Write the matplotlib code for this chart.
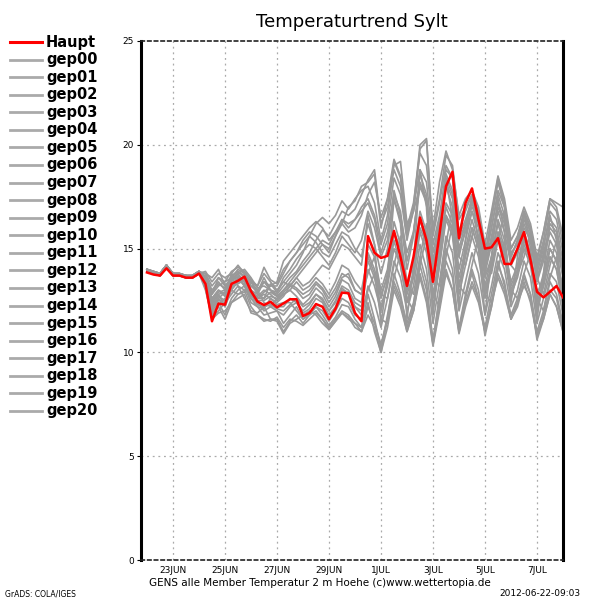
import matplotlib
matplotlib.use("Agg")
import matplotlib.pyplot as plt
import numpy as np

# ---------------- data ----------------
# 6-hourly time steps, in days after 22JUN 00Z
steps_per_day = 4
n_steps = 65

tick_days = [1, 3, 5, 7, 9, 11, 13, 15]
tick_labels = ["23JUN", "25JUN", "27JUN", "29JUN", "1JUL", "3JUL", "5JUL", "7JUL"]
y_ticks = [0, 5, 10, 15, 20, 25]

haupt = [13.85, 13.75, 13.7, 14.05, 13.7, 13.7, 13.6, 13.6, 13.8,
         13.3, 11.5, 12.35, 12.3, 13.3, 13.45, 13.65, 12.95, 12.45, 12.28, 12.44, 12.17,
         12.36, 12.56, 12.56, 11.75, 11.9, 12.33, 12.2, 11.6, 12.1, 12.88, 12.85, 11.9, 11.5,
         15.6, 14.8, 14.55, 14.65, 15.85, 14.6, 13.2, 14.6, 16.5, 15.4, 13.4, 15.7, 18.0, 18.7,
         15.5, 17.2, 17.9, 16.4, 15.0, 15.06, 15.5, 14.26, 14.26, 15.0, 15.8, 14.45, 12.92,
         12.65, 12.92, 13.2, 12.65]

gep00 = [14.0,13.9,13.8,14.2,13.8,13.8,13.7,13.7,13.9,
         13.6,12.2,12.6,12.9,13.5,13.8,13.4,12.9,12.7,13.0,12.8,12.5,
         12.8,13.0,12.7,12.3,12.6,13.1,12.8,12.2,12.7,13.5,13.3,12.6,12.4,
         15.2,14.6,13.0,14.0,16.3,15.2,13.2,14.4,16.8,15.8,13.4,15.0,17.2,16.6,14.0,15.4,16.8,15.6,13.6,14.6,16.2,15.0,13.4,14.2,15.8,14.8,12.8,13.6,15.0,14.4,13.2]
gep01 = [13.9,13.8,13.7,14.1,13.7,13.7,13.6,13.6,13.8,
         13.4,12.8,13.6,13.2,13.6,14.0,13.8,13.2,12.9,13.6,13.0,12.8,
         13.2,13.6,13.9,14.4,14.8,15.4,15.9,15.6,16.2,16.8,16.6,16.9,17.6,
         18.3,18.8,16.2,17.0,18.8,18.0,15.6,16.8,19.8,20.2,15.8,17.4,19.5,19.0,16.4,17.0,17.6,16.8,14.8,16.4,18.2,17.0,14.6,15.4,16.6,15.8,13.8,15.0,16.8,16.4,14.8]
gep02 = [13.9,13.8,13.8,14.2,13.7,13.7,13.6,13.7,13.9,
         13.2,12.0,12.4,11.8,12.6,13.0,13.2,12.4,12.2,11.8,11.9,12.0,
         11.4,11.8,12.2,11.6,11.9,12.2,11.8,11.3,11.7,12.3,12.2,11.6,11.2,
         12.8,11.6,10.2,11.8,13.4,12.6,11.4,12.4,14.2,13.0,10.6,12.6,14.4,13.6,11.2,12.8,13.8,12.6,11.0,12.4,13.6,12.8,11.6,12.2,13.4,12.4,10.8,11.8,13.0,12.6,11.2]
gep03 = [14.0,13.8,13.7,14.1,13.8,13.7,13.7,13.6,13.8,
         13.5,12.6,13.0,12.8,13.8,13.4,13.6,13.4,12.8,12.6,13.3,12.9,
         13.6,14.0,14.5,14.9,15.2,15.0,14.6,14.2,14.8,15.6,15.2,14.8,15.4,
         16.8,16.0,14.6,15.4,17.8,16.6,14.8,15.8,18.2,17.4,14.4,16.2,18.8,18.4,15.6,16.4,17.4,16.2,14.2,15.6,17.2,16.4,14.8,15.2,16.4,15.6,13.6,14.6,16.2,15.8,14.0]
gep04 = [14.0,13.9,13.8,14.2,13.8,13.8,13.7,13.7,13.9,
         13.8,13.6,14.0,13.2,13.0,12.8,12.9,13.4,13.0,12.4,12.2,12.6,
         12.9,13.2,13.0,12.6,12.8,13.3,13.0,12.4,12.9,13.6,13.8,13.0,12.8,
         13.8,14.6,12.8,12.6,14.2,15.6,13.4,12.8,14.6,16.2,13.6,13.2,15.2,17.0,14.6,14.2,15.6,16.6,14.0,13.8,15.4,16.8,14.2,13.8,14.6,15.8,13.6,12.8,14.2,15.4,13.8]
gep05 = [13.9,13.8,13.7,14.1,13.7,13.7,13.6,13.6,13.8,
         13.0,11.7,12.0,12.4,12.8,13.2,12.6,12.0,11.9,12.2,11.6,11.6,
         11.0,11.5,11.8,11.4,11.8,12.0,11.6,11.2,11.6,12.0,11.8,11.4,11.0,
         11.8,11.2,10.0,11.2,13.0,12.2,11.0,12.0,13.8,12.6,10.4,12.2,14.0,13.0,11.0,12.4,13.4,12.6,11.2,12.8,14.4,13.2,11.8,12.6,13.6,12.8,11.0,12.0,13.4,12.8,11.4]
gep06 = [13.9,13.8,13.8,14.2,13.7,13.7,13.6,13.7,13.9,
         13.6,12.8,13.2,13.4,13.9,14.1,13.9,13.5,13.2,13.8,13.4,13.0,
         13.4,13.8,14.2,14.8,15.6,16.2,16.5,16.2,16.6,17.3,16.9,17.4,17.8,
         18.0,17.2,15.4,16.6,19.2,18.4,16.0,17.2,19.6,19.0,16.0,18.2,19.7,18.8,16.6,17.4,17.8,17.0,15.2,16.8,18.5,17.4,15.4,16.0,17.0,16.2,14.6,15.8,17.4,17.0,15.6]
gep07 = [14.0,13.8,13.7,14.1,13.8,13.7,13.7,13.6,13.8,
         13.4,12.4,12.8,12.2,13.2,13.6,13.2,12.6,12.4,12.3,12.4,12.2,
         12.2,12.6,12.4,11.9,12.1,12.6,12.4,11.8,12.2,13.0,12.9,12.2,12.0,
         14.8,14.0,12.8,13.6,15.8,14.6,12.8,13.8,16.4,15.2,12.8,14.6,17.0,16.2,13.2,14.8,16.0,15.0,12.8,14.2,15.6,14.6,12.6,13.8,15.2,14.4,12.2,13.2,14.6,14.0,12.4]
gep08 = [14.0,13.9,13.8,14.2,13.8,13.8,13.7,13.7,13.9,
         13.2,11.8,12.2,11.6,12.4,12.8,13.0,12.2,11.8,11.5,11.6,11.5,
         10.9,11.4,11.6,11.8,12.0,11.8,11.4,11.1,11.5,11.9,11.6,11.4,11.2,
         12.4,11.0,10.0,11.6,13.8,12.8,11.2,12.2,14.6,13.4,10.4,12.8,15.0,14.0,11.0,12.6,14.0,13.0,10.8,12.2,14.2,13.4,11.6,12.4,13.8,12.8,10.6,11.6,12.8,12.2,11.0]
gep09 = [13.9,13.8,13.7,14.1,13.7,13.7,13.6,13.6,13.8,
         13.7,13.0,13.4,13.0,13.6,13.2,13.0,12.8,12.6,12.9,13.2,13.2,
         13.8,14.4,14.8,15.2,15.6,15.3,14.8,14.6,15.2,15.8,15.6,15.0,14.6,
         16.2,15.2,13.8,15.0,17.4,16.4,14.0,15.6,18.6,17.6,13.8,15.8,18.2,17.4,14.6,16.0,17.2,16.2,13.8,15.2,16.8,15.8,14.2,14.8,16.0,15.4,13.4,14.4,15.8,15.2,13.6]
gep10 = [13.9,13.8,13.8,14.2,13.7,13.7,13.6,13.7,13.9,
         13.4,12.2,12.6,12.2,13.0,13.4,13.6,12.8,12.4,12.0,12.2,12.0,
         11.8,12.2,12.4,12.0,12.3,12.8,12.5,12.0,12.4,13.1,12.8,12.2,11.8,
         13.0,13.8,11.6,11.4,13.6,14.8,12.6,12.0,14.2,15.6,12.8,12.2,14.6,16.2,13.2,12.8,14.2,15.6,12.8,12.4,14.0,15.4,13.0,12.6,13.8,14.8,12.6,12.0,13.6,14.6,12.6]
gep11 = [14.0,13.8,13.7,14.1,13.8,13.7,13.7,13.6,13.8,
         13.8,13.2,13.6,13.4,13.6,13.9,13.6,13.0,12.8,13.4,13.2,13.4,
         14.4,14.8,15.2,15.6,16.0,16.3,16.0,15.4,15.8,16.2,15.8,16.0,16.6,
         17.6,18.2,16.5,17.4,19.3,18.5,15.8,17.0,18.8,18.2,15.2,16.6,18.6,17.8,15.4,16.2,17.0,16.4,14.6,16.0,17.8,17.0,15.0,15.6,16.6,15.8,14.0,15.2,16.4,16.0,14.4]
gep12 = [14.0,13.9,13.8,14.2,13.8,13.8,13.7,13.7,13.9,
         13.3,11.9,12.3,12.6,13.2,13.3,13.5,12.6,12.2,12.1,12.6,12.3,
         12.4,12.4,12.0,11.6,11.8,12.2,12.0,11.5,12.0,12.6,12.4,11.8,11.6,
         13.2,12.4,11.2,12.6,14.4,13.6,12.0,13.2,15.2,14.0,11.4,13.4,15.6,14.8,12.0,13.4,14.8,13.8,11.8,13.2,14.8,14.0,12.2,13.0,14.4,13.6,11.4,12.6,13.8,13.4,11.8]
gep13 = [13.9,13.8,13.7,14.1,13.7,13.7,13.6,13.6,13.8,
         13.6,12.5,12.9,13.0,13.7,13.9,13.7,13.0,12.6,12.8,12.6,12.4,
         12.7,13.2,13.6,13.2,13.4,13.8,14.2,14.0,14.6,15.2,15.0,14.6,14.2,
         16.6,15.2,11.4,13.6,17.4,16.2,11.6,14.2,18.8,17.0,11.8,15.0,18.4,16.4,12.2,15.4,17.6,15.2,11.8,14.6,17.4,15.8,12.4,14.6,16.8,15.0,11.6,13.8,16.6,15.4,12.2]
gep14 = [13.9,13.8,13.8,14.2,13.7,13.7,13.6,13.7,13.9,
         13.5,12.6,13.0,12.7,13.4,13.7,13.4,13.2,13.0,13.4,13.0,12.7,
         13.0,13.4,13.8,14.2,14.6,15.0,15.4,15.2,15.8,16.4,16.2,16.4,17.0,
         17.4,16.6,15.2,16.2,18.4,17.6,15.4,17.0,20.0,20.3,15.6,17.2,19.0,18.4,15.8,16.8,17.6,16.6,14.4,16.0,17.6,16.6,14.6,15.4,16.8,16.0,14.2,15.4,17.2,16.8,15.2]
gep15 = [14.0,13.8,13.7,14.1,13.8,13.7,13.7,13.6,13.8,
         13.4,12.3,12.7,12.5,13.3,13.5,13.3,12.7,12.5,12.5,12.7,12.6,
         12.8,13.0,13.4,13.0,13.2,13.6,13.3,12.8,13.4,14.2,14.0,13.4,13.0,
         14.6,13.8,12.6,13.8,15.8,15.0,13.0,14.4,16.4,15.6,12.6,14.6,16.6,16.0,13.6,15.0,16.4,15.2,13.2,14.6,16.4,15.4,13.2,14.0,15.6,14.6,12.6,13.8,15.4,14.8,12.8]
gep16 = [14.0,13.9,13.8,14.2,13.8,13.8,13.7,13.7,13.9,
         13.1,11.6,11.9,12.0,12.4,12.6,12.8,11.9,11.8,11.6,11.5,11.7,
         11.2,11.6,11.5,11.3,11.6,11.9,11.6,11.1,11.5,11.9,11.7,11.2,11.0,
         12.2,11.4,10.4,11.6,13.2,12.4,11.0,12.0,13.6,12.4,10.3,12.0,13.8,13.0,10.9,12.2,13.2,12.4,11.0,12.2,13.8,13.0,11.6,12.4,13.2,12.6,10.8,11.6,12.8,12.2,11.0]
gep17 = [13.9,13.8,13.7,14.1,13.7,13.7,13.6,13.6,13.8,
         13.7,12.9,13.3,13.1,13.5,13.8,14.0,13.6,13.1,13.2,13.0,12.9,
         13.4,13.2,13.6,14.0,14.4,14.8,15.2,14.8,15.6,16.4,16.0,16.4,16.8,
         17.2,16.4,14.8,15.8,17.6,16.8,14.4,15.8,18.0,17.2,14.0,16.0,18.4,17.6,15.0,16.2,17.4,16.4,14.4,16.6,18.4,17.2,15.0,15.6,16.8,16.0,14.4,15.8,17.4,17.2,17.0]
gep18 = [13.9,13.8,13.8,14.2,13.7,13.7,13.6,13.7,13.9,
         13.3,12.1,12.5,12.4,13.1,13.4,13.6,12.8,12.3,12.2,12.3,12.1,
         12.0,12.3,12.6,12.2,12.4,12.8,12.6,12.0,12.5,13.2,13.0,12.4,12.2,
         14.0,13.2,12.0,13.2,15.0,14.2,12.4,13.6,15.8,14.8,12.2,14.2,16.4,15.6,12.8,14.2,15.6,14.6,12.6,14.0,15.8,14.8,12.8,13.6,15.0,14.2,12.0,13.2,14.6,14.0,12.2]
gep19 = [14.0,13.8,13.7,14.1,13.8,13.7,13.7,13.6,13.8,
         13.9,13.4,13.8,13.6,13.8,14.2,13.8,13.4,13.2,14.1,13.5,13.3,
         14.0,14.4,14.8,15.4,15.8,15.6,15.2,15.0,15.6,16.2,17.0,17.3,18.0,
         18.2,18.6,16.0,17.4,19.0,19.2,16.2,16.8,18.0,17.4,14.8,16.4,18.0,17.0,14.8,15.8,16.8,16.0,14.0,15.4,17.0,16.2,14.4,15.0,16.2,15.4,13.4,14.8,16.0,15.6,13.8]
gep20 = [14.0,13.9,13.8,14.2,13.8,13.8,13.7,13.7,13.9,
         13.5,12.4,12.8,12.9,13.6,13.6,13.2,12.9,12.6,12.6,12.9,12.7,
         13.0,13.3,13.1,12.8,13.0,13.4,13.1,12.6,13.1,13.8,13.6,13.0,12.8,
         14.4,13.6,12.2,13.4,15.4,14.2,12.4,13.8,16.0,15.2,12.0,14.2,16.6,15.8,13.2,14.6,16.0,15.0,13.0,14.2,15.8,14.8,13.0,13.8,15.4,14.6,12.4,13.4,15.0,14.4,12.6]

members = [gep00, gep01, gep02, gep03, gep04, gep05, gep06, gep07, gep08, gep09, gep10,
           gep11, gep12, gep13, gep14, gep15, gep16, gep17, gep18, gep19, gep20]
member_names = ["gep%02d" % k for k in range(len(members))]

# ---------------- figure ----------------
plt.rcParams['font.family'] = ['DejaVu Sans']
fig = plt.figure(figsize=(6, 6), dpi=100)
ax = fig.add_axes([141/600, 40/600, (563-141)/600, (560-41)/600])

t = np.arange(n_steps) / steps_per_day

gray = "#999999"
for m in members:
    ax.plot(t, m, color=gray, lw=1.2, zorder=2)
ax.plot(t, haupt, color="#ff0000", lw=1.8, zorder=3)

ax.set_xlim(-0.23, 16.0)
ax.set_ylim(0, 25)

# grid
for d in tick_days:
    ax.axvline(d, color="#aaaaaa", lw=0.9, ls=(0, (1.5, 3)), zorder=1)
for yv in y_ticks[1:-1]:
    ax.axhline(yv, color="#aaaaaa", lw=0.9, ls=(0, (1.5, 3)), zorder=1)

ax.spines['left'].set_linewidth(2.2)
ax.spines['right'].set_linewidth(2.2)
for s in ('top', 'bottom'):
    ax.spines[s].set_linewidth(1.2)
    ax.spines[s].set_linestyle((0, (2, 2)))
    ax.spines[s].set_color("#222222")

ax.set_xticks(tick_days)
ax.set_xticklabels(tick_labels, fontsize=6.5)
ax.set_yticks(y_ticks)
ax.set_yticklabels([str(v) for v in y_ticks], fontsize=6.5)
ax.tick_params(axis='x', length=0, pad=4)
ax.tick_params(axis='y', length=3, width=0.8, pad=2)

# title
fig.text(352/600, 1 - 22/600, "Temperaturtrend Sylt", ha="center", va="center", fontsize=13)

# legend (manual, in figure pixel coords)
leg_names = ["Haupt"] + member_names
leg_colors = ["#ff0000"] + ["#aaaaaa"] * len(member_names)
for k, (nm, c) in enumerate(zip(leg_names, leg_colors)):
    y = 1 - (42 + k * 17.57) / 600
    fig.add_artist(plt.Line2D([10/600, 42/600], [y, y], color=c, lw=2.2 if k == 0 else 2.0,
                              transform=fig.transFigure))
    fig.text(46/600, y, nm, ha="left", va="center", fontsize=10.5, fontweight="bold")

# footer
fig.text(320/600, 1 - 583/600, "GENS alle Member Temperatur 2 m Hoehe (c)www.wettertopia.de",
         ha="center", va="center", fontsize=7.5)
fig.text(580/600, 1 - 594/600, "2012-06-22-09:03", ha="right", va="center", fontsize=6.5)
fig.text(5/600, 1 - 594/600, "GrADS: COLA/IGES", ha="left", va="center", fontsize=5.5)

fig.savefig("out.png", dpi=100, facecolor="white")
